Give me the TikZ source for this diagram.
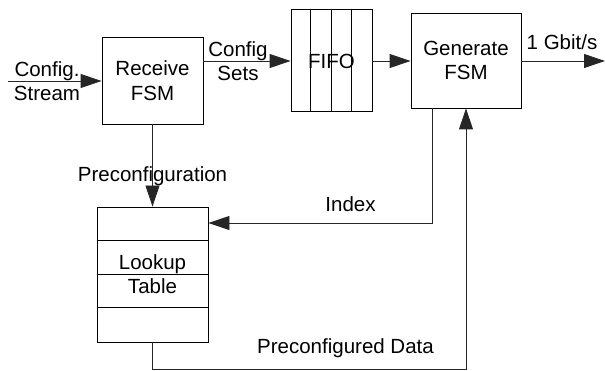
\documentclass[tikz,border=0pt]{standalone}
\usepackage{fontspec}
\setmainfont{Liberation Sans}
\usetikzlibrary{arrows.meta}
\begin{document}
\begin{tikzpicture}[x=1pt,y=-1pt,
  every node/.style={font=\fontsize{20.5}{24.5}\selectfont, inner sep=0pt, align=center},
  blk/.style={draw, line width=0.9pt, minimum width=#1, rectangle},
  wire/.style={line width=0.9pt, draw=black!85},
  arr/.style={wire, -{Triangle[length=21pt,width=14pt]}},
  lbl/.style={}]
\useasboundingbox (0,0) rectangle (605,371);
% blocks
\node[blk=101pt, minimum height=87pt] (recv) at (152.5,80.5) {Receive\\FSM};
\node[blk=81pt, minimum height=102pt] (fifo) at (331.5,60) {};
\node[blk=110pt, minimum height=95pt] (gen) at (466,60.5) {Generate\\FSM};
\node[blk=111pt, minimum height=135pt] (lut) at (152.5,274.5) {};
% FIFO columns
\foreach \i in {1,2,3} {
  \draw[line width=0.9pt] ([xshift=\i*20.25pt]fifo.north west) -- ([xshift=\i*20.25pt]fifo.south west);
}
\node (fifolbl) at (331.5,61) {FIFO};
% LUT rows
\foreach \i in {1,2,3} {
  \draw[line width=0.9pt] ([yshift=-\i*33.75pt]lut.north west) -- ([yshift=-\i*33.75pt]lut.north east);
}
\node (lutlbl) at (152.5,274) {Lookup\\Table};
% coordinates
\coordinate (in) at (8,81);
\coordinate (out) at (605,61);
\coordinate (idxA) at (432,108.5);
\coordinate (idxB) at (432,223);
\coordinate (pdA) at (152.5,369);
\coordinate (pdB) at (466,369);
% connectors
\draw[arr] (in) -- (recv.west |- in);
\draw[arr] (recv.east |- 0,61) -- (fifo.west |- 0,61);
\draw[arr] (fifo.east |- 0,61) -- (gen.west |- 0,61);
\draw[arr] (gen.east |- out) -- (out);
\draw[arr] (recv.south) -- (lut.north);
\draw[arr] (idxA) -- (idxB) -- (lut.east |- idxB);
\draw[arr] (lut.south) -- (pdA) -- (pdB) -- (gen.south);
% labels
\node (l1) at (47,81) {Config.\\Stream};
\node (l2) at (238,61) {Config\\Sets};
\node (l3) at (562,42) {1 Gbit/s};
\node (l4) at (152.5,176) {Preconfiguration};
\node (l5) at (350.5,204) {Index};
\node (l6) at (345.5,348) {Preconfigured Data};
\end{tikzpicture}
\end{document}
